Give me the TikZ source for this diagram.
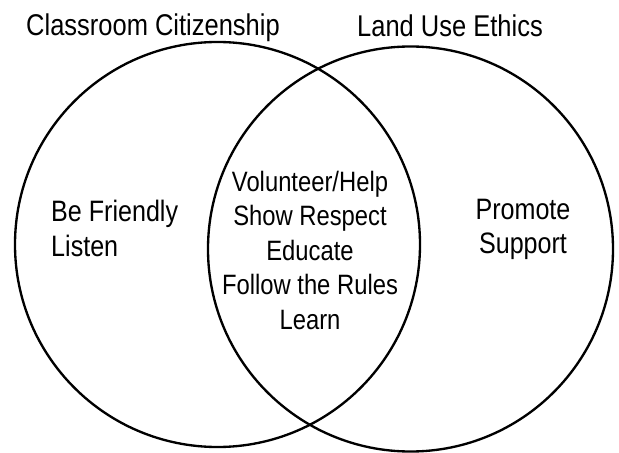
\documentclass[tikz,border=0pt]{standalone}
\usepackage{fontspec}
\setmainfont{Liberation Sans}[FakeStretch=0.85]
\usepackage{tikz}
\usetikzlibrary{shapes,positioning}

\begin{document}
\begin{tikzpicture}[
    x=0.03cm, y=-0.03cm,
    set/.style={circle, draw, line width=2pt, minimum size=12.15cm, inner sep=0pt},
    title/.style={anchor=base, inner sep=0pt, font=\fontsize{25.6}{30}\selectfont},
    item/.style={inner sep=0pt, font=\fontsize{23.9}{29.4}\selectfont},
    sideitem/.style={item, font=\fontsize{25.2}{29.4}\selectfont}
]
\useasboundingbox (0,0) rectangle (619,453);

% the two sets
\node[set] (citizen) at (217.5,244.5) {};
\node[set] (land) at (410.5,249) {};

% set names above the circles
\node[title] (citizenname) at (153,36) {Classroom Citizenship};
\node[title] (landname) at (450,37) {Land Use Ethics};

% members of each part
\node[sideitem, align=left, anchor=north west] (onlycitizen) at (51,200) {Be Friendly\\Listen};
\node[item, align=center, anchor=north] (both) at (310,171) {Volunteer/Help\\Show Respect\\Educate\\Follow the Rules\\Learn};
\node[sideitem, align=center, anchor=north] (onlyland) at (523,199) {Promote\\Support};
\end{tikzpicture}
\end{document}
